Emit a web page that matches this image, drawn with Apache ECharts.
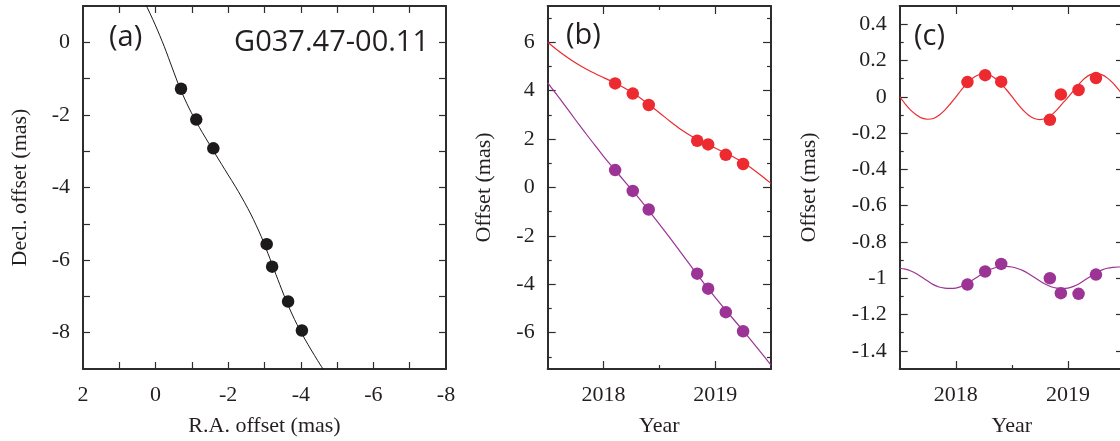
<!DOCTYPE html>
<html>
<head>
<meta charset="utf-8">
<script src="https://cdn.jsdelivr.net/npm/echarts@6/dist/echarts.min.js"></script>
<style>
html,body{margin:0;padding:0;background:#fff;}
#chart{width:1120px;height:441px;}
</style>
</head>
<body>
<div id="chart"></div>
<script>
// ---------------- DATA ----------------
// observation epochs (year)
const epochs = [2018.104, 2018.262, 2018.405, 2018.839, 2018.937, 2019.095, 2019.250];
// panel (a): sky positions (mas)
const raOffset  = [-0.70, -1.12, -1.59, -3.06, -3.21, -3.65, -4.03];
const decOffset = [-1.28, -2.13, -2.92, -5.56, -6.18, -7.14, -7.94];
// panel (b): offsets vs time (mas), red = R.A., purple = Decl.
const bRA  = [4.30, 3.88, 3.41, 1.93, 1.78, 1.35, 0.97];
const bDec = [0.72, -0.14, -0.91, -3.56, -4.18, -5.15, -5.94];
// panel (c): parallax-only offsets (mas)
const cRA  = [0.081, 0.119, 0.083, -0.127, 0.013, 0.037, 0.103];
const cDec = [-1.035, -0.963, -0.921, -1.000, -1.082, -1.086, -0.980];

// model curves
const fitYearsB = [2017.5, 2017.6, 2017.7, 2017.8, 2017.9, 2018.0, 2018.1, 2018.2, 2018.3, 2018.4, 2018.5,
                   2018.6, 2018.7, 2018.8, 2018.9, 2019.0, 2019.1, 2019.2, 2019.3, 2019.4, 2019.5];
const bRAFit  = [6.00, 5.63, 5.30, 5.01, 4.76, 4.54, 4.33, 4.08, 3.79, 3.45, 3.09,
                 2.72, 2.38, 2.09, 1.85, 1.63, 1.41, 1.17, 0.88, 0.54, 0.17];
const bDecFit = [4.32, 3.72, 3.10, 2.48, 1.88, 1.29, 0.74, 0.19, -0.35, -0.92, -1.51,
                 -2.11, -2.73, -3.35, -3.96, -4.54, -5.10, -5.64, -6.19, -6.76, -7.34];
const aRAFit  = [1.00, 0.63, 0.30, 0.01, -0.24, -0.46, -0.67, -0.92, -1.21, -1.55, -1.91,
                 -2.28, -2.62, -2.91, -3.15, -3.37, -3.59, -3.83, -4.12, -4.46, -4.83];
const aDecFit = [2.32, 1.72, 1.10, 0.48, -0.12, -0.71, -1.26, -1.81, -2.35, -2.92, -3.51,
                 -4.11, -4.73, -5.35, -5.96, -6.54, -7.10, -7.64, -8.19, -8.76, -9.34];
const fitYearsC = [2017.50, 2017.55, 2017.60, 2017.65, 2017.70, 2017.75, 2017.80, 2017.85, 2017.90, 2017.95,
                   2018.00, 2018.05, 2018.10, 2018.15, 2018.20, 2018.25, 2018.30, 2018.35, 2018.40, 2018.45,
                   2018.50, 2018.55, 2018.60, 2018.65, 2018.70, 2018.75, 2018.80, 2018.85, 2018.90, 2018.95,
                   2019.00, 2019.05, 2019.10, 2019.15, 2019.20, 2019.25, 2019.30, 2019.35, 2019.40, 2019.45, 2019.50];
const cRAFit  = [0.000, -0.040, -0.075, -0.100, -0.118, -0.124, -0.120, -0.102, -0.075, -0.040,
                 -0.002, 0.038, 0.074, 0.102, 0.120, 0.126, 0.120, 0.102, 0.075, 0.040,
                 0.002, -0.038, -0.074, -0.102, -0.120, -0.126, -0.120, -0.102, -0.074, -0.038,
                 -0.004, 0.034, 0.070, 0.102, 0.122, 0.128, 0.122, 0.104, 0.076, 0.040, 0.002];
const cDecFit = [-0.945, -0.950, -0.960, -0.975, -0.995, -1.015, -1.035, -1.048, -1.054, -1.056,
                 -1.054, -1.045, -1.030, -1.010, -0.990, -0.970, -0.953, -0.942, -0.936, -0.935,
                 -0.938, -0.946, -0.958, -0.975, -0.995, -1.015, -1.033, -1.047, -1.054, -1.056,
                 -1.054, -1.045, -1.030, -1.010, -0.990, -0.970, -0.955, -0.945, -0.940, -0.938, -0.938];

// tick labels / tick positions
const aXLabels = [2, 0, -2, -4, -6, -8];
const aXTicks  = [1, 0, -1, -2, -3, -4, -5, -6, -7];
const aYLabels = [0, -2, -4, -6, -8];
const aYTicks  = [0, -1, -2, -3, -4, -5, -6, -7, -8];
const yearLabels = [2018, 2019];
const yearMinor  = [2018.5];
const bYLabels = [6, 4, 2, 0, -2, -4, -6];
const bYMinor  = [7, 5, 3, 1, -1, -3, -5, -7];
const cYLabels = [0.4, 0.2, 0, -0.2, -0.4, -0.6, -0.8, -1, -1.2, -1.4];
const cYMinor  = [0.3, 0.1, -0.1, -0.3, -0.5, -0.7, -0.9, -1.1, -1.3];

const panelLabels = ['(a)', '(b)', '(c)'];
const sourceName = 'G037.47-00.11';

// ---------------- STYLE ----------------
const SERIF = 'Liberation Serif';
const SANS = 'Open Sans';
const AXIS = '#2e2c2d';
const TXT = '#231f20';
const RED = '#ec2a2f';
const PURPLE = '#9b3495';
const BLACK = '#1c1a1b';
const FS = 22;

const fmt = v => '{t|' + String(Math.round(v * 100) / 100) + '}';
const RICH = {t: {fontFamily: SERIF, fontSize: FS, color: TXT}};

const xAxes = [], yAxes = [];
function addAxes(list, kind, gi, cfg) {
  const positions = kind === 'x' ? ['bottom', 'top'] : ['left', 'right'];
  const mainIndex = list.length;
  positions.forEach((pos, k) => {
    const base = {
      type: 'value', gridIndex: gi, position: pos, min: cfg.min, max: cfg.max,
      inverse: !!cfg.inverse, splitLine: {show: false}, splitArea: {show: false},
      minorTick: {show: false}, minorSplitLine: {show: false}, silent: true
    };
    list.push(Object.assign({}, base, {
      axisLine: {show: true, onZero: false, lineStyle: {color: AXIS, width: 2}},
      axisTick: {show: true, inside: true, length: cfg.majorLen, customValues: cfg.major,
                 lineStyle: {color: AXIS, width: 1.2}},
      axisLabel: k === 0 ? {show: true, customValues: cfg.labels, formatter: fmt, margin: cfg.margin,
                            color: TXT, fontFamily: SERIF, fontSize: FS, rich: RICH} : {show: false},
      name: k === 0 ? cfg.name : '',
      nameLocation: 'middle', nameGap: cfg.nameGap,
      nameTextStyle: {fontFamily: SERIF, fontSize: FS, color: TXT}
    }));
    if (cfg.minor) {
      list.push(Object.assign({}, base, {
        axisLine: {show: false, onZero: false},
        axisTick: {show: true, inside: true, length: cfg.minorLen, customValues: cfg.minor,
                   lineStyle: {color: AXIS, width: 1.2}},
        axisLabel: {show: false}, name: ''
      }));
    }
  });
  return mainIndex;
}

const ax0 = addAxes(xAxes, 'x', 0, {min: -8, max: 2, inverse: true, major: aXTicks, majorLen: 7,
  labels: aXLabels, margin: 15, name: 'R.A. offset (mas)', nameGap: 46});
const ay0 = addAxes(yAxes, 'y', 0, {min: -9, max: 1, major: aYTicks, majorLen: 7,
  labels: aYLabels, margin: 13, name: 'Decl. offset (mas)', nameGap: 52});
const ax1 = addAxes(xAxes, 'x', 1, {min: 2017.5, max: 2019.5, major: yearLabels, majorLen: 8,
  minor: yearMinor, minorLen: 4, labels: yearLabels, margin: 15, name: 'Year', nameGap: 46});
const ay1 = addAxes(yAxes, 'y', 1, {min: -7.5, max: 7.5, major: bYLabels, majorLen: 8,
  minor: bYMinor, minorLen: 4, labels: bYLabels, margin: 13, name: 'Offset (mas)', nameGap: 52});
const ax2 = addAxes(xAxes, 'x', 2, {min: 2017.5, max: 2019.5, major: yearLabels, majorLen: 8,
  minor: yearMinor, minorLen: 4, labels: yearLabels, margin: 15, name: 'Year', nameGap: 46});
const ay2 = addAxes(yAxes, 'y', 2, {min: -1.5, max: 0.5, major: cYLabels, majorLen: 8,
  minor: cYMinor, minorLen: 4, labels: cYLabels, margin: 13, name: 'Offset (mas)', nameGap: 79});

const zip = (xs, ys) => xs.map((x, i) => [x, ys[i]]);

function lineS(xi, yi, data, color, w) {
  return {type: 'line', xAxisIndex: xi, yAxisIndex: yi, data: data, smooth: 0.3, showSymbol: false,
          symbol: 'none', clip: true, lineStyle: {color: color, width: w}, z: 2, silent: true,
          animation: false};
}
function dotS(xi, yi, data, color) {
  return {type: 'scatter', xAxisIndex: xi, yAxisIndex: yi, data: data, symbol: 'circle',
          symbolSize: 12.5, itemStyle: {color: color, opacity: 1}, z: 3, silent: true, animation: false};
}

const series = [
  lineS(ax0, ay0, zip(aRAFit, aDecFit), BLACK, 1),
  dotS(ax0, ay0, zip(raOffset, decOffset), BLACK),
  lineS(ax1, ay1, zip(fitYearsB, bRAFit), RED, 1.2),
  lineS(ax1, ay1, zip(fitYearsB, bDecFit), PURPLE, 1.2),
  dotS(ax1, ay1, zip(epochs, bRA), RED),
  dotS(ax1, ay1, zip(epochs, bDec), PURPLE),
  lineS(ax2, ay2, zip(fitYearsC, cRAFit), RED, 1.2),
  lineS(ax2, ay2, zip(fitYearsC, cDecFit), PURPLE, 1.2),
  dotS(ax2, ay2, zip(epochs, cRA), RED),
  dotS(ax2, ay2, zip(epochs, cDec), PURPLE)
];

const chart = echarts.init(document.getElementById('chart'), null, {renderer: 'canvas'});
chart.setOption({
  backgroundColor: '#ffffff',
  animation: false,
  textStyle: {fontFamily: SERIF, color: TXT},
  grid: [
    {left: 83, top: 6, width: 363, height: 363, containLabel: false, outerBoundsMode: 'none'},
    {left: 547.7, top: 6, width: 223.3, height: 363, containLabel: false, outerBoundsMode: 'none'},
    {left: 899.7, top: 6, width: 224.3, height: 363, containLabel: false, outerBoundsMode: 'none'}
  ],
  xAxis: xAxes,
  yAxis: yAxes,
  series: series,
  graphic: [
    {type: 'text', left: 109, top: 23, z: 10, silent: true,
     style: {text: panelLabels[0], font: '29px "' + SANS + '"', fill: TXT}},
    {type: 'text', right: 1120 - 429, top: 28, z: 10, silent: true,
     style: {text: sourceName, font: '29px "' + SANS + '"', fill: TXT}},
    {type: 'text', left: 566, top: 21, z: 10, silent: true,
     style: {text: panelLabels[1], font: '29px "' + SANS + '"', fill: TXT}},
    {type: 'text', left: 914, top: 22, z: 10, silent: true,
     style: {text: panelLabels[2], font: '29px "' + SANS + '"', fill: TXT}}
  ]
});
</script>
</body>
</html>
